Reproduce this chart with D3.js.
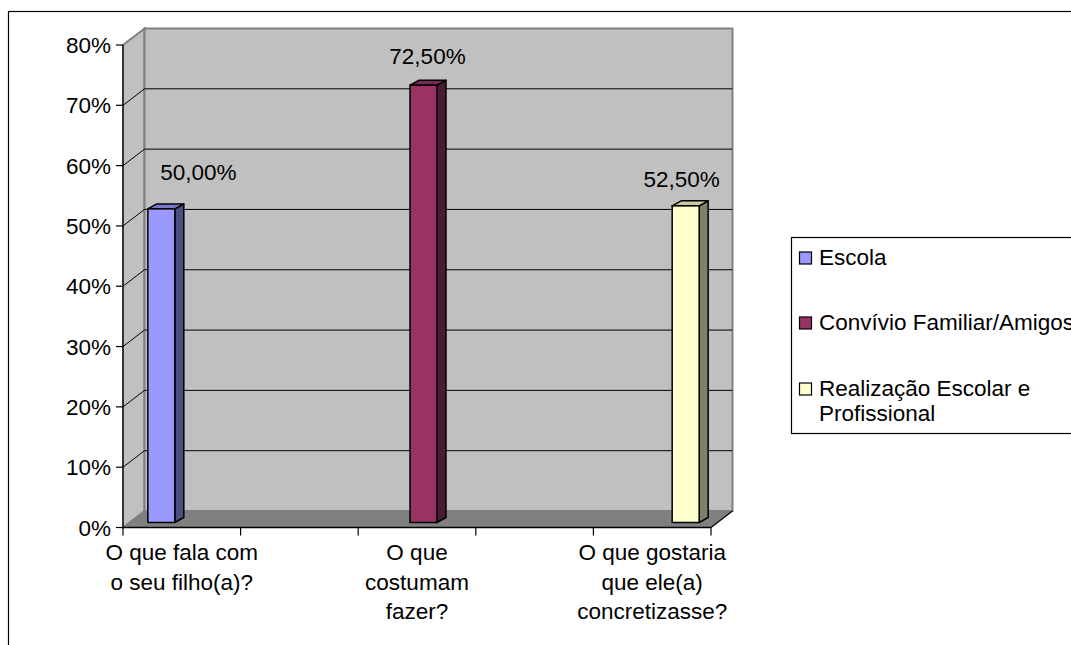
<!DOCTYPE html>
<html>
<head>
<meta charset="utf-8">
<script src="https://cdn.jsdelivr.net/npm/d3@7"></script>
<style>
  body { margin: 0; background: #fff; }
  text { font-family: "Liberation Sans", Arial, sans-serif; font-size: 22.5px; fill: #000; }
</style>
</head>
<body>
<div class="chart"></div>
<script>
// categories (only every other one gets a label, like the original)
var categoryLines = [
    ["O que fala com", "o seu filho(a)?"],
    [],
    ["O que", "costumam", "fazer?"],
    [],
    ["O que gostaria", "que ele(a)", "concretizasse?"]
];
var seriesNames = ["Escola", "Convívio Familiar/Amigos", "Realização Escolar e Profissional"];
var seriesLegendLines = [["Escola"], ["Convívio Familiar/Amigos"], ["Realização Escolar e", "Profissional"]];
var escolaValues = [52, null, null, null, null];
var convivioValues = [null, null, 72.5, null, null];
var realizacaoValues = [null, null, null, null, 52.5];
var valueLabels = ["50,00%", "72,50%", "52,50%"];
var yTicks = [0, 10, 20, 30, 40, 50, 60, 70, 80];
var seriesColors = ["#9999ff", "#993366", "#ffffcc"];

function drawChart(){
    var width = 1071, height = 645;
    var svg = d3.select('.chart')
        .append('svg')
        .attr('width', width)
        .attr('height', height);

    // front plane of the plot + 3d depth offset
    var left = 123, right = 711, top = 45, bottom = 527.5;
    var ddx = 21.5, ddy = -16.5;
    // bars sit a bit behind the front plane
    var barShiftX = 6.5, barShiftY = -5;
    var barDx = 9, barDy = -5;

    var y = d3.scaleLinear().domain([0, 80]).range([bottom, top]);
    var x = d3.scaleBand().domain(d3.range(categoryLines.length)).range([left, right]);
    var xs = d3.scaleBand().domain(d3.range(seriesNames.length))
        .range([0, x.bandwidth()])
        .paddingOuter(0.68);

    // outer border
    svg.append('rect')
        .attr('x', 8.5).attr('y', 11.5)
        .attr('width', width).attr('height', height)
        .attr('fill', 'none').attr('stroke', '#000').attr('stroke-width', 1.2);

    // left wall
    svg.append('polygon')
        .attr('points', [[left, top], [left + ddx, top + ddy], [left + ddx, bottom + ddy], [left, bottom]].join(' '))
        .attr('fill', '#c0c0c0').attr('stroke', '#808080').attr('stroke-width', 2);
    // back wall
    svg.append('rect')
        .attr('x', left + ddx).attr('y', top + ddy)
        .attr('width', right - left).attr('height', bottom - top)
        .attr('fill', '#c0c0c0').attr('stroke', '#808080').attr('stroke-width', 2);

    // gridlines
    var grid = svg.append('g');
    yTicks.filter(function(d){ return d > 0 && d < 80; }).forEach(function(t){
        grid.append('polyline')
            .attr('points', [[left, y(t)], [left + ddx, y(t) + ddy], [right + ddx, y(t) + ddy]].join(' '))
            .attr('fill', 'none').attr('stroke', '#000').attr('stroke-width', 1);
    });

    // floor
    svg.append('polygon')
        .attr('points', [[left, bottom], [right, bottom], [right + ddx, bottom + ddy], [left + ddx, bottom + ddy]].join(' '))
        .attr('fill', '#808080');
    svg.append('line')
        .attr('x1', right).attr('y1', bottom)
        .attr('x2', right + ddx).attr('y2', bottom + ddy)
        .attr('stroke', '#000').attr('stroke-width', 1.2);

    // bars
    var allValues = [escolaValues, convivioValues, realizacaoValues];
    var bars = [];
    allValues.forEach(function(vals, s){
        vals.forEach(function(v, c){
            if (v != null) bars.push({s: s, c: c, v: v});
        });
    });

    var barG = svg.append('g').selectAll('g')
        .data(bars)
        .enter().append('g');

    barG.each(function(d){
        var g = d3.select(this);
        var x0 = x(d.c) + xs(d.s) + barShiftX;
        var x1 = x0 + xs.bandwidth();
        var y0 = y(0) + barShiftY;
        var y1 = y(d.v) + barShiftY;
        var col = d3.color(seriesColors[d.s]);
        var topCol = d3.rgb(col.r * 0.78, col.g * 0.78, col.b * 0.8);
        var sideCol = d3.rgb(col.r * 0.5, col.g * 0.5, col.b * 0.5);
        // side
        g.append('polygon')
            .attr('points', [[x1, y1], [x1 + barDx, y1 + barDy], [x1 + barDx, y0 + barDy], [x1, y0]].join(' '))
            .attr('fill', sideCol).attr('stroke', '#000').attr('stroke-width', 1.5).attr('stroke-linejoin', 'round');
        // top
        g.append('polygon')
            .attr('points', [[x0, y1], [x0 + barDx, y1 + barDy], [x1 + barDx, y1 + barDy], [x1, y1]].join(' '))
            .attr('fill', topCol).attr('stroke', '#000').attr('stroke-width', 1.5).attr('stroke-linejoin', 'round');
        // front
        g.append('rect')
            .attr('x', x0).attr('y', y1)
            .attr('width', x1 - x0).attr('height', y0 - y1)
            .attr('fill', col).attr('stroke', '#000').attr('stroke-width', 1.5);
    });

    // data labels (the first one was moved by hand in the original)
    var labelDx = [37, 4, -4];
    var labelDy = [-29, -21, -19];
    barG.append('text')
        .attr('x', function(d){ return x(d.c) + xs(d.s) + barShiftX + xs.bandwidth() / 2 + labelDx[d.s]; })
        .attr('y', function(d){ return y(d.v) + barShiftY + labelDy[d.s]; })
        .attr('text-anchor', 'middle')
        .text(function(d){ return valueLabels[d.s]; });

    // y axis
    svg.append('line')
        .attr('x1', left).attr('y1', top).attr('x2', left).attr('y2', bottom)
        .attr('stroke', '#000').attr('stroke-width', 1.2);
    var yt = svg.append('g').selectAll('g').data(yTicks).enter().append('g');
    yt.append('line')
        .attr('x1', left - 7).attr('x2', left)
        .attr('y1', function(d){ return y(d); }).attr('y2', function(d){ return y(d); })
        .attr('stroke', '#000').attr('stroke-width', 1.2);
    yt.append('text')
        .attr('x', left - 12)
        .attr('y', function(d){ return y(d) + 8; })
        .attr('text-anchor', 'end')
        .text(function(d){ return d + '%'; });

    // x axis
    svg.append('line')
        .attr('x1', left).attr('y1', bottom).attr('x2', right).attr('y2', bottom)
        .attr('stroke', '#000').attr('stroke-width', 1.5);
    var bounds = x.domain().map(function(d){ return x(d); }).concat([right]);
    svg.append('g').selectAll('line').data(bounds).enter().append('line')
        .attr('x1', function(d){ return d; }).attr('x2', function(d){ return d; })
        .attr('y1', bottom).attr('y2', bottom + 8)
        .attr('stroke', '#000').attr('stroke-width', 1.2);
    var xl = svg.append('g').selectAll('text').data(categoryLines).enter().append('text')
        .attr('text-anchor', 'middle')
        .attr('transform', function(d, i){ return 'translate(' + (x(i) + x.bandwidth() / 2) + ',' + 560 + ')'; });
    xl.selectAll('tspan').data(function(d){ return d; }).enter().append('tspan')
        .attr('x', 0)
        .attr('y', function(d, i){ return i * 29.5; })
        .text(function(d){ return d; });

    // legend
    var legend = svg.append('g');
    legend.append('rect')
        .attr('x', 791.5).attr('y', 237.5)
        .attr('width', 400).attr('height', 196)
        .attr('fill', '#fff').attr('stroke', '#000').attr('stroke-width', 1.2);
    var rowY = [258, 323, 389];
    var items = legend.selectAll('g.item').data(seriesNames).enter().append('g')
        .attr('class', 'item')
        .attr('transform', function(d, i){ return 'translate(0,' + rowY[i] + ')'; });
    items.append('rect')
        .attr('x', 799.5).attr('y', -6)
        .attr('width', 12).attr('height', 12)
        .attr('fill', function(d, i){ return seriesColors[i]; })
        .attr('stroke', '#000').attr('stroke-width', 1.2);
    var lt = items.append('text');
    lt.selectAll('tspan').data(function(d, i){ return seriesLegendLines[i]; }).enter().append('tspan')
        .attr('x', 819)
        .attr('y', function(d, i){ return 7 + i * 25; })
        .text(function(d){ return d; });
}
drawChart();
</script>
</body>
</html>
